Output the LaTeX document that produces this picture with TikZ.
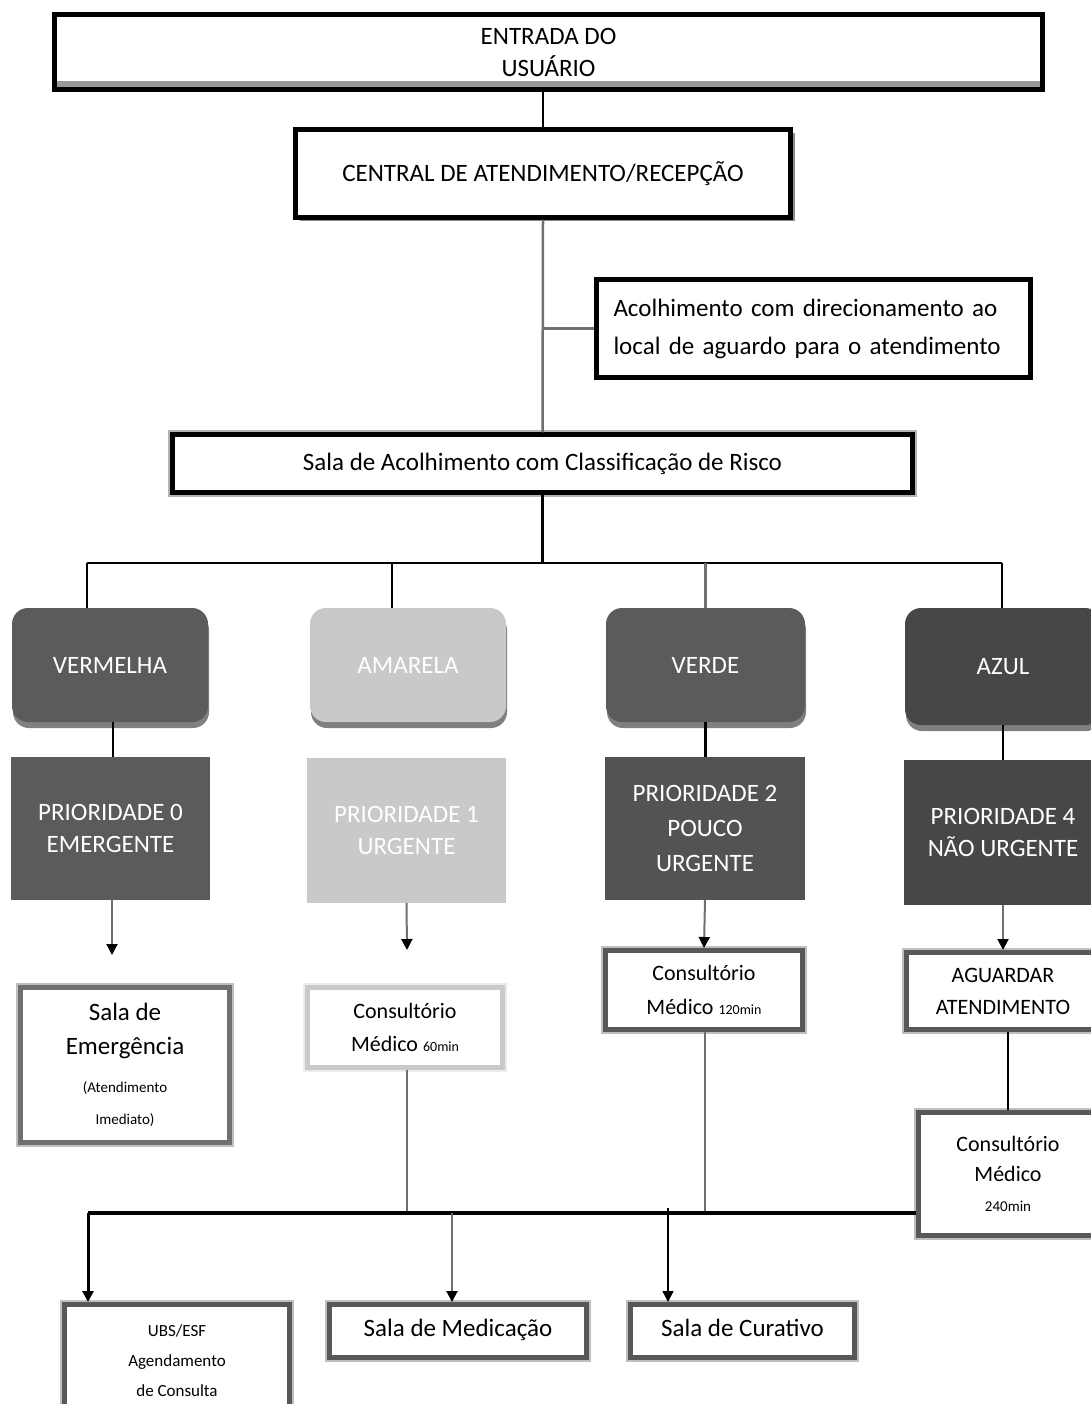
\documentclass[tikz,border=0pt]{standalone}
\usepackage{fontspec}
\setmainfont{Carlito}
\usetikzlibrary{shadows,arrows.meta}
\definecolor{dkfill}{HTML}{5B5B5B}
\definecolor{ltfill}{HTML}{C9C9C9}
\definecolor{azfill}{HTML}{474747}
\definecolor{grline}{HTML}{707070}
\definecolor{frame}{HTML}{585858}
\begin{document}
\begin{tikzpicture}[x=1pt,y=-1pt,
  lbl/.style={font=\fontsize{25}{32}\selectfont, align=center, inner sep=0pt},
  blackbox/.style={lbl, draw=black, line width=4.5pt, fill=white},
  shadowbox/.style={blackbox, drop shadow={shadow xshift=4pt, shadow yshift=-4pt, fill=black!45, opacity=1}},
  halobox/.style={blackbox, preaction={draw=black!30, line width=9pt}},
  colorbox/.style={lbl, text=white, rounded corners=16pt,
    drop shadow={shadow xshift=1pt, shadow yshift=-6pt, fill=black!50, opacity=1}},
  prio/.style={lbl, text=white},
  framebox/.style={lbl, draw=#1, line width=5pt, fill=white,
    preaction={draw=black!25, line width=9pt}},
  framebox/.default=frame,
  oneline/.style={text height=17pt, text depth=6pt},
  wire/.style={line width=2.5pt, black},
  gwire/.style={line width=2.5pt, grline},
  arr/.style={-{Triangle[width=11pt,length=11pt,color=black,fill=black]}}
]
\useasboundingbox[fill=white] (0,0) rectangle (1091,1404);

% --- top of the flow
\node[blackbox, minimum width=988pt, minimum height=75pt,
  path picture={\fill[black!40] (path picture bounding box.south west) rectangle ([yshift=8pt]path picture bounding box.south east);}]
  (entrada) at (548.5,52) {ENTRADA DO\\USUÁRIO};
\node[shadowbox, minimum width=495pt, minimum height=88pt]
  (central) at (543,173.5) {CENTRAL DE ATENDIMENTO/RECEPÇÃO};
\node[blackbox, minimum width=434pt, minimum height=98pt, align=left,
  text width=400pt, font=\fontsize{25}{38}\selectfont]
  (acolh) at (813.5,328.5) {Acolhimento com direcionamento ao\\local de aguardo para o atendimento};
\node[halobox, minimum width=740pt, minimum height=58pt]
  (sala) at (542.5,463.5) {Sala de Acolhimento com Classificação de Risco};

% --- risk colours
\node[colorbox, fill=dkfill, minimum width=196pt, minimum height=114pt] (verm) at (110,665) {VERMELHA};
\node[colorbox, fill=ltfill, minimum width=196pt, minimum height=114pt] (amar) at (408,665) {AMARELA};
\node[colorbox, fill=dkfill, minimum width=199pt, minimum height=114pt] (verde) at (705.5,665) {VERDE};
\node[colorbox, fill=azfill, minimum width=196pt, minimum height=117pt] (azul) at (1003,666.5) {AZUL};

% --- priorities
\node[prio, fill=dkfill, minimum width=199pt, minimum height=143pt] (p0) at (110.5,828.5) {PRIORIDADE 0\\EMERGENTE};
\node[prio, fill=ltfill, minimum width=199pt, minimum height=145pt] (p1) at (406.5,830.5) {PRIORIDADE 1\\URGENTE};
\node[prio, fill=dkfill!105, minimum width=200pt, minimum height=143pt, font=\fontsize{25}{35}\selectfont] (p2) at (705,828.5) {PRIORIDADE 2\\POUCO\\URGENTE};
\node[prio, fill=azfill, minimum width=198pt, minimum height=145pt] (p4) at (1003,832.5) {PRIORIDADE 4\\NÃO URGENTE};

% --- destinations
\node[framebox=grline, minimum width=209pt, minimum height=155pt]
  (emerg) at (125,1065) {Sala de\\[2pt]Emergência\\[6pt]{\fontsize{15}{27}\selectfont (Atendimento}\\{\fontsize{15}{27}\selectfont Imediato)}};
\node[framebox=ltfill, minimum width=195pt, minimum height=80pt, font=\fontsize{22}{33}\selectfont, preaction={draw=black!8, line width=9pt}]
  (c60) at (405,1027.5) {Consultório\\Médico {\fontsize{14}{14}\selectfont 60min}};
\node[framebox, minimum width=197pt, minimum height=79pt, font=\fontsize{22}{34}\selectfont]
  (c120) at (704,990) {Consultório\\Médico {\fontsize{14}{14}\selectfont 120min}};
\node[framebox, minimum width=193pt, minimum height=77pt, font=\fontsize{22}{32}\selectfont]
  (aguard) at (1003,991) {AGUARDAR\\ATENDIMENTO};
\node[framebox, minimum width=179pt, minimum height=123pt, font=\fontsize{22}{30}\selectfont]
  (c240) at (1008,1174) {Consultório\\Médico\\{\fontsize{15}{15}\selectfont 240min}};
\node[framebox, minimum width=225pt, minimum height=113pt, font=\fontsize{17}{30}\selectfont]
  (ubs) at (177,1361) {UBS/ESF\\Agendamento\\de Consulta};
\node[framebox, oneline, minimum width=257pt, minimum height=53pt] (med) at (458,1331) {Sala de Medicação};
\node[framebox, oneline, minimum width=224pt, minimum height=53pt] (cur) at (742.5,1331) {Sala de Curativo};

% --- junction points
\coordinate (busL) at (87,563);
\coordinate (busR) at (1002,563);
\coordinate (busA) at (392,563);
\coordinate (dnL) at (88,1213);
\coordinate (arr0) at (112,955);
\coordinate (arr1) at (407,950);

% --- upper connectors
\draw[line width=1.8pt] (central.north) -- (central.north |- entrada.south);
\draw[gwire] (central.south) -- (sala.north);
\draw[gwire] (central.south |- acolh.west) -- (acolh.west);
\draw[wire] (sala.south) -- (sala.south |- busL);
\draw[wire] (busL) -- (busR);
\draw[wire] (busL) -- (busL |- verm.north);
\draw[wire] (busA) -- (busA |- amar.north);
\draw[gwire] (busR -| verde.north) -- (verde.north);
\draw[wire] (busR) -- (busR |- azul.north);

% --- colour to priority
\draw[wire] ([xshift=3pt]verm.south) -- ([xshift=3pt]verm.south |- p0.north);
\draw[wire] (verde.south) -- (verde.south |- p2.north);
\draw[wire] (azul.south) -- (p4.north);

% --- priority to destination
\draw[gwire, line width=2pt, arr] ([xshift=1.5pt]p0.south) -- (arr0);
\draw[gwire, line width=2pt, arr] (p1.south) -- (arr1);
\draw[gwire, line width=2pt, arr] (p2.south) -- (c120.north);
\draw[gwire, line width=2pt, arr] (p4.south) -- (aguard.north);
\draw[wire] (aguard.south -| c240.north) -- (c240.north);

% --- lower distribution
\draw[gwire, line width=2pt] ([xshift=2pt]c60.south) -- ([xshift=2pt]c60.south |- dnL);
\draw[gwire, line width=2pt] ([xshift=1pt]c120.south) -- ([xshift=1pt]c120.south |- dnL);
\draw[line width=4pt] (dnL) -- (dnL -| c240.west);
\draw[wire, line width=3pt, arr] (dnL) -- (dnL |- ubs.north);
\draw[gwire, line width=2pt, arr] (452,1213) -- (452,1213 |- med.north);
\draw[line width=1.5pt, arr] (668,1208) -- (668,1208 |- cur.north);
\end{tikzpicture}
\end{document}
